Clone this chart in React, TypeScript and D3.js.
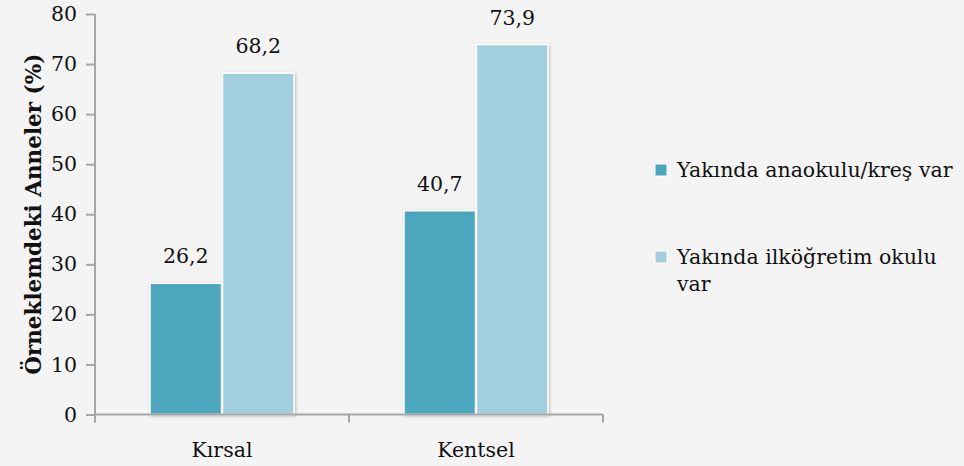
import React, { useEffect, useRef } from "react";
import * as d3 from "d3";

const categories = ["Kırsal", "Kentsel"];
const seriesNames = ["Yakında anaokulu/kreş var", "Yakında ilköğretim okulu var"];
const anaokulu = [26.2, 40.7];
const ilkogretim = [68.2, 73.9];
const yTicks = [0, 10, 20, 30, 40, 50, 60, 70, 80];
const colors = ["#4ca6be", "#a2cedd"];

export default function App() {
  const ref = useRef<SVGSVGElement | null>(null);

  useEffect(() => {
    const W = 964, H = 466;
    const svg = d3.select(ref.current);
    svg.selectAll("*").remove();
    const font = "DejaVu Serif";
    const fs = 20.5;

    svg.append("rect").attr("width", W).attr("height", H).attr("fill", "#f4f4f4");

    // shadow for bars
    const defs = svg.append("defs");
    const f = defs.append("filter").attr("id", "sh").attr("x", "-20%").attr("y", "-10%").attr("width", "140%").attr("height", "120%");
    f.append("feDropShadow").attr("dx", 1).attr("dy", 1).attr("stdDeviation", 1.5)
      .attr("flood-color", "#000").attr("flood-opacity", 0.25);

    const left = 95, right = 603, top = 14, bottom = 414.5;

    const x = d3.scaleBand().domain(categories).range([left, right]);
    const y = d3.scaleLinear().domain([0, 80]).range([bottom, top]);
    const inner = d3.scaleBand().domain(["0", "1"]).range([0, 145]);
    const barW = 72.5;

    const series = [anaokulu, ilkogretim];
    const g = svg.append("g");

    series.forEach((vals, si) => {
      categories.forEach((c, ci) => {
        const cx = x(c)! + x.bandwidth() / 2;
        const bx = cx - 72.5 + inner(String(si))!;
        g.append("rect")
          .attr("x", bx + 0.5)
          .attr("y", y(vals[ci]))
          .attr("width", barW - 1)
          .attr("height", bottom - y(vals[ci]))
          .attr("fill", colors[si])
          .attr("stroke", "#fff")
          .attr("stroke-width", 1.5)
          .attr("filter", "url(#sh)");
        g.append("text")
          .attr("x", bx + barW / 2)
          .attr("y", y(vals[ci]) - 20)
          .attr("text-anchor", "middle")
          .style("font-family", font)
          .style("font-size", fs + "px")
          .attr("fill", "#111")
          .text(d3.format(".1f")(vals[ci]).replace(".", ","));
      });
    });

    // axes
    const axisColor = "#a6a6a6";
    const yAxis = svg.append("g").attr("transform", `translate(${left},0)`)
      .call(d3.axisLeft(y).tickValues(yTicks).tickSize(9).tickPadding(9));
    yAxis.attr("font-family", null).attr("font-size", null);
    yAxis.select(".domain").attr("stroke", axisColor).attr("stroke-width", 2)
      .attr("d", `M0,${top}V${bottom + 8}`);
    yAxis.selectAll(".tick line").attr("stroke", axisColor).attr("stroke-width", 2);
    yAxis.selectAll(".tick text").style("font-family", font).style("font-size", fs + "px").attr("fill", "#111");

    const xAxis = svg.append("g").attr("transform", `translate(0,${bottom})`);
    xAxis.append("line").attr("x1", left).attr("x2", right).attr("stroke", axisColor).attr("stroke-width", 2);
    const bounds = [left, ...categories.slice(1).map(c => x(c)!), right];
    bounds.forEach(b => {
      xAxis.append("line").attr("x1", b).attr("x2", b).attr("y1", 0).attr("y2", 8)
        .attr("stroke", axisColor).attr("stroke-width", 2);
    });
    categories.forEach(c => {
      xAxis.append("text")
        .attr("x", x(c)! + x.bandwidth() / 2)
        .attr("y", 42)
        .attr("text-anchor", "middle")
        .style("font-family", font)
        .style("font-size", fs + "px")
        .attr("fill", "#111")
        .text(c);
    });

    // y title
    svg.append("text")
      .attr("transform", `translate(41,${(top + bottom) / 2}) rotate(-90)`)
      .attr("text-anchor", "middle")
      .style("font-family", font)
      .style("font-size", "21.5px")
      .attr("font-weight", "bold")
      .attr("fill", "#111")
      .text("Örneklemdeki Anneler (%)");

    // legend
    const leg = svg.append("g");
    const items = [
      { lines: [seriesNames[0]], y: 170 },
      { lines: ["Yakında ilköğretim okulu", "var"], y: 257 },
    ];
    items.forEach((it, i) => {
      leg.append("rect").attr("x", 655).attr("y", it.y - 6).attr("width", 12).attr("height", 12)
        .attr("fill", colors[i]).attr("stroke", "#fff").attr("stroke-width", 1);
      it.lines.forEach((ln, li) => {
        leg.append("text")
          .attr("x", 677)
          .attr("y", it.y + li * 27)
          .attr("dy", "0.35em")
          .style("font-family", font)
          .style("font-size", fs + "px")
          .attr("fill", "#111")
          .text(ln);
      });
    });
  }, []);

  return (
    <svg ref={ref} width={964} height={466}
      style={{ position: "absolute", left: 0, top: 0, display: "block" }} />
  );
}
